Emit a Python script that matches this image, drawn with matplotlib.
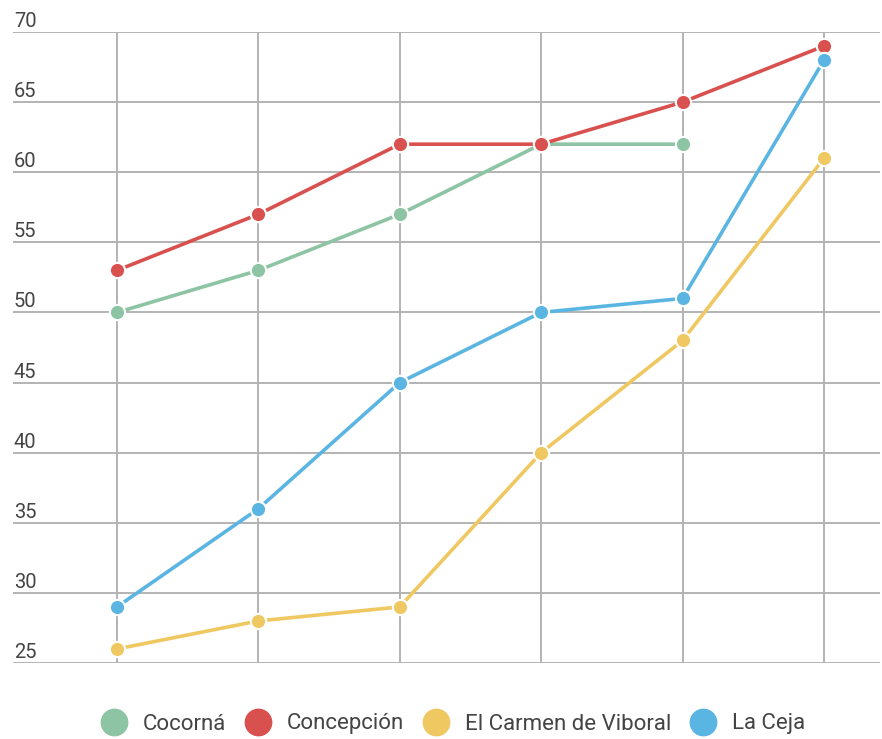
import matplotlib.pyplot as plt
from matplotlib.lines import Line2D
import numpy as np

plt.rcParams['font.family'] = ['Roboto', 'DejaVu Sans']

x = [0, 1, 2, 3, 4, 5]
cocorna = [50, 53, 57, 62, 62, np.nan]
concepcion = [53, 57, 62, 62, 65, 69]
carmen = [26, 28, 29, 40, 48, 61]
laceja = [29, 36, 45, 50, 51, 68]
yticks = [25, 30, 35, 40, 45, 50, 55, 60, 65, 70]

series = [
    ('Cocorná', cocorna, '#8dc4a3'),
    ('Concepción', concepcion, '#d9514f'),
    ('El Carmen de Viboral', carmen, '#efc862'),
    ('La Ceja', laceja, '#5bb5e2'),
]

fig = plt.figure(figsize=(8.82, 7.39), dpi=100)
ax = fig.add_axes([13 / 882, 1 - 663 / 739, (880 - 13) / 882, (663 - 32) / 739])

for yv in yticks:
    ax.axhline(yv, color='#b3b3b3', lw=1.4, zorder=1)
    ax.text(0.001, yv + 0.36, str(yv), transform=ax.get_yaxis_transform(),
            ha='left', va='baseline', fontsize=14.5, color='#444444')
for xv in x:
    ax.axvline(xv, color='#b3b3b3', lw=1.4, zorder=1)

handles = []
for name, vals, col in series:
    ax.plot(x, vals, color=col, lw=2.6, marker='o', markersize=11,
            markeredgecolor='white', markeredgewidth=1.5, zorder=3)
    handles.append(Line2D([], [], linestyle='none', marker='o', markersize=19,
                          markerfacecolor=col, markeredgecolor=col, label=name))

ax.set_xlim(-0.735, 5.396)
ax.set_ylim(25, 70)
ax.axis('off')

fig.legend(handles=handles, loc='center', bbox_to_anchor=(453 / 882, 1 - 724 / 739),
           ncol=4, frameon=False, fontsize=16, handlelength=1.2, handletextpad=0.7,
           columnspacing=0.84, borderpad=0, labelcolor='#444444')

fig.savefig('out.png', dpi=100)
